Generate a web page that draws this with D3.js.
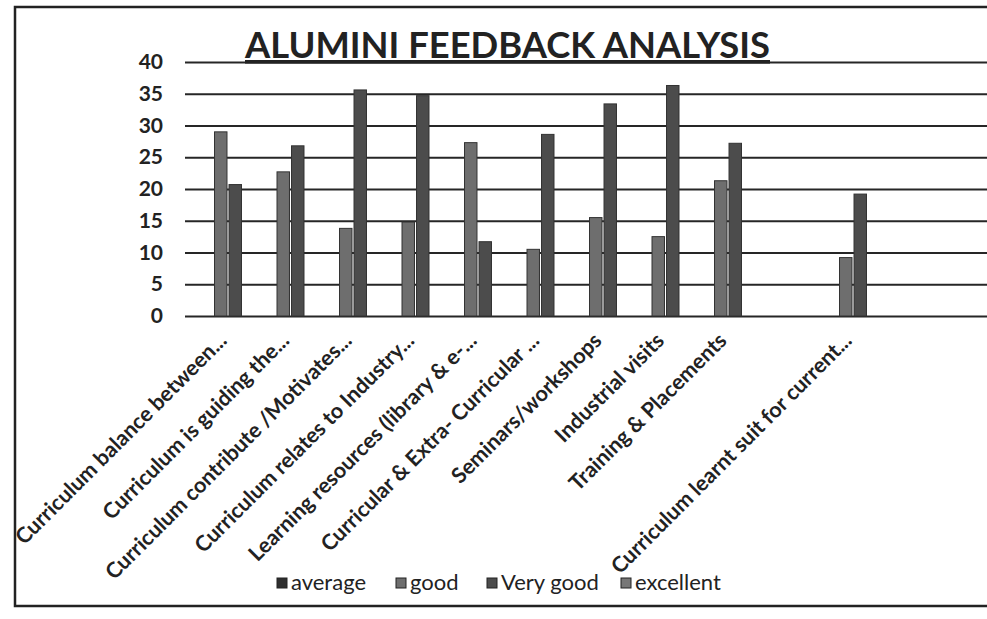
<!DOCTYPE html>
<html>
<head>
<meta charset="utf-8">
<script src="https://cdn.jsdelivr.net/npm/d3@7"></script>
<style>
  html, body { margin: 0; padding: 0; background: #fff; }
  svg { display: block; }
  text { font-family: Lato, "Open Sans", sans-serif; fill: #222; }
</style>
</head>
<body>
<svg id="chart" width="987" height="619"></svg>
<script>
// categories (one blank slot in the original chart before the last one)
var categories = [
    "Curriculum balance between...",
    "Curriculum is guiding the...",
    "Curriculum contribute /Motivates...",
    "Curriculum relates to Industry...",
    "Learning resources (library & e-...",
    "Curricular & Extra- Curricular ...",
    "Seminars/workshops",
    "Industrial visits",
    "Training & Placements",
    "",
    "Curriculum learnt suit for current..."
];
var seriesNames = ["average", "good", "Very good", "excellent"];
var average   = [0, 0, 0, 0, 0, 0, 0, 0, 0, null, 0];
var good      = [29, 22.7, 13.8, 14.8, 27.3, 10.5, 15.5, 12.5, 21.3, null, 9.2];
var veryGood  = [20.7, 26.8, 35.6, 34.7, 11.7, 28.6, 33.4, 36.3, 27.2, null, 19.2];
var excellent = [0, 0, 0, 0, 0, 0, 0, 0, 0, null, 0];
var yTicks = [0, 5, 10, 15, 20, 25, 30, 35, 40];
var title = "ALUMINI FEEDBACK ANALYSIS";

var seriesValues = [average, good, veryGood, excellent];
var seriesFill = ["#2e2e2e", "#6e6e6e", "#4c4c4c", "#777"];

var svg = d3.select("#chart");

// outer frame (right edge is cut off in the scan)
svg.append("path")
    .attr("d", "M995,7H15V606H995")
    .attr("fill", "none")
    .attr("stroke", "#222")
    .attr("stroke-width", 2.5);

var y = d3.scaleLinear().domain([0, 40]).range([316, 62]);

var step = 62.5;
var x = d3.scaleBand()
    .domain(d3.range(categories.length))
    .range([196.75, 196.75 + step * categories.length])
    .paddingInner(0.104)
    .paddingOuter(0.052);

var xs = d3.scaleBand()
    .domain(seriesNames)
    .range([0, x.bandwidth()])
    .paddingInner(0.14);

// gridlines + tick labels
var yAxis = d3.axisLeft(y)
    .tickValues(yTicks)
    .tickSize(-(987 - 185))
    .tickPadding(22);

var ga = svg.append("g")
    .attr("transform", "translate(185,0)")
    .call(yAxis);
ga.select(".domain").remove();
ga.selectAll(".tick line")
    .attr("stroke", "#262626")
    .attr("stroke-width", 2);
ga.selectAll(".tick text")
    .attr("font-size", 21)
    .attr("font-weight", 700)
    .style("font-family", "Lato, sans-serif")
    .attr("fill", "#222");

// bars
var rows = [];
seriesNames.forEach(function (s, si) {
    seriesValues[si].forEach(function (v, ci) {
        if (v) rows.push({ series: s, si: si, cat: ci, value: v });
    });
});

svg.append("g").selectAll("rect")
    .data(rows)
    .join("rect")
    .attr("x", function (d) { return x(d.cat) + xs(d.series); })
    .attr("y", function (d) { return y(d.value); })
    .attr("width", xs.bandwidth())
    .attr("height", function (d) { return y(0) - y(d.value); })
    .attr("fill", function (d) { return seriesFill[d.si]; })
    .attr("stroke", "#333")
    .attr("stroke-width", 1);

// category labels, rotated
svg.append("g").selectAll("text")
    .data(categories)
    .join("text")
    .attr("transform", function (d, i) {
        return "translate(" + (x(i) + x.bandwidth() / 2) + ",342) rotate(-45)";
    })
    .attr("text-anchor", "end")
    .attr("font-size", 21.5)
    .attr("font-weight", 700)
    .text(function (d) { return d; });

// title
svg.append("text")
    .attr("x", 245)
    .attr("y", 58)
    .attr("font-size", 36)
    .attr("font-weight", 700)
    .attr("textLength", 525)
    .attr("lengthAdjust", "spacingAndGlyphs")
    .attr("fill", "#3a3a3a")
    .attr("text-decoration", "underline")
    .text(title);

// legend
var legendX = [277, 396, 487, 621];
var lg = svg.append("g").selectAll("g")
    .data(seriesNames)
    .join("g")
    .attr("transform", function (d, i) { return "translate(" + legendX[i] + ",578)"; });
lg.append("rect")
    .attr("width", 10)
    .attr("height", 10)
    .attr("fill", function (d, i) { return seriesFill[i]; })
    .attr("stroke", "#222");
lg.append("text")
    .attr("x", 14)
    .attr("y", 12)
    .attr("font-size", 22)
    .attr("font-weight", 400)
    .text(function (d) { return d; });
</script>
</body>
</html>
